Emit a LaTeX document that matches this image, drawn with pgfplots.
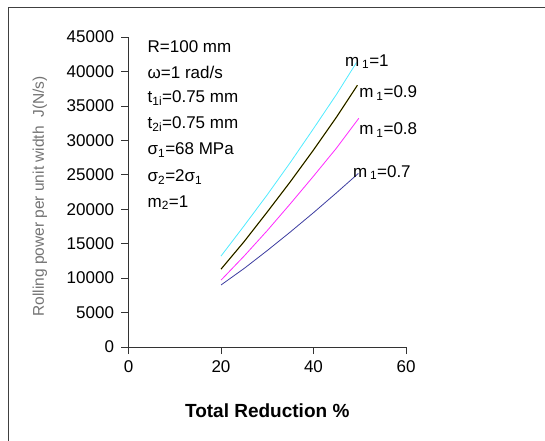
\documentclass[border=0pt]{standalone}
\usepackage{pgfplots}
\pgfplotsset{compat=1.18}
\usepackage{fontspec}
\setmainfont{Liberation Sans}
\definecolor{mcyan}{RGB}{80,235,255}
\definecolor{mmag}{RGB}{255,40,255}
\definecolor{mblue}{RGB}{60,60,160}
\begin{document}
\begin{tikzpicture}
\useasboundingbox (0,0) rectangle (545bp,441bp);
\draw[black!75, line width=0.9bp] (8bp,0) -- (8bp,434bp) -- (545bp,434bp);
\begin{axis}[
  at={(128.5bp,94bp)}, anchor=south west,
  scale only axis, width=277.5bp, height=310bp,
  xmin=0, xmax=60, ymin=0, ymax=45000,
  axis lines=left, axis line style={-, black!80, line width=0.6bp},
  xtick={0,20,40,60}, ytick={0,5000,...,45000},
  tick align=outside, major tick length=7bp,
  tick style={black!80, line width=0.6bp},
  /pgf/number format/assume math mode=true,
  scaled y ticks=false,
  yticklabel style={/pgf/number format/1000 sep={}, font=\fontsize{17bp}{19bp}\selectfont, xshift=-4bp},
  xticklabel style={font=\fontsize{17bp}{19bp}\selectfont, yshift=-3bp},
  xlabel={\textbf{Total Reduction \%}},
  xlabel style={font=\fontsize{19bp}{21bp}\selectfont, at={(axis description cs:0.5,-0.205)}, anchor=center},
  ylabel={Rolling power per unit width\ \ J(N/s)},
  ylabel style={font=\fontsize{15.5bp}{18bp}\selectfont, text=black!55, at={(axis description cs:-0.319,0.486)}, anchor=center},
  clip=false,
]
\addplot[mcyan, line width=0.8bp] coordinates {(20,13200) (25,17600) (30,22100) (35,26800) (40,31700) (45,36700) (49.3,41300)};
\addplot[yellow!80!black, line width=1.3bp] coordinates {(20,11300) (25,15300) (30,19600) (35,24000) (40,28600) (45,33400) (49.5,38000)};
\addplot[black, line width=0.8bp] coordinates {(20,11300) (25,15300) (30,19600) (35,24000) (40,28600) (45,33400) (49.5,38000)};
\addplot[mmag, line width=0.8bp] coordinates {(20,9700) (25,13200) (30,16900) (35,20800) (40,24800) (45,28900) (49.8,33200)};
\addplot[mblue, line width=0.8bp] coordinates {(20,9000) (25,11400) (30,14000) (35,16700) (40,19500) (45,22400) (49.7,25200)};
\begin{scope}[every node/.style={anchor=west, inner sep=0pt, font=\fontsize{17bp}{19bp}\selectfont}]
\node at (axis cs:4.1,43550) {R=100 mm};
\node at (axis cs:4.1,39900) {ω=1 rad/s};
\node at (axis cs:4.1,36150) {t\textsubscript{1i}=0.75 mm};
\node at (axis cs:4.1,32400) {t\textsubscript{2i}=0.75 mm};
\node at (axis cs:4.1,28600) {σ\textsubscript{1}=68 MPa};
\node at (axis cs:4.1,24700) {σ\textsubscript{2}=2σ\textsubscript{1}};
\node at (axis cs:4.1,20950) {m\textsubscript{2}=1};
\node at (axis cs:46.8,41400) {m\,\textsubscript{1}=1};
\node at (axis cs:49.9,36870) {m\,\textsubscript{1}=0.9};
\node at (axis cs:49.9,31500) {m\,\textsubscript{1}=0.8};
\node at (axis cs:48.5,25300) {m\,\textsubscript{1}=0.7};
\end{scope}
\end{axis}
\end{tikzpicture}
\end{document}
